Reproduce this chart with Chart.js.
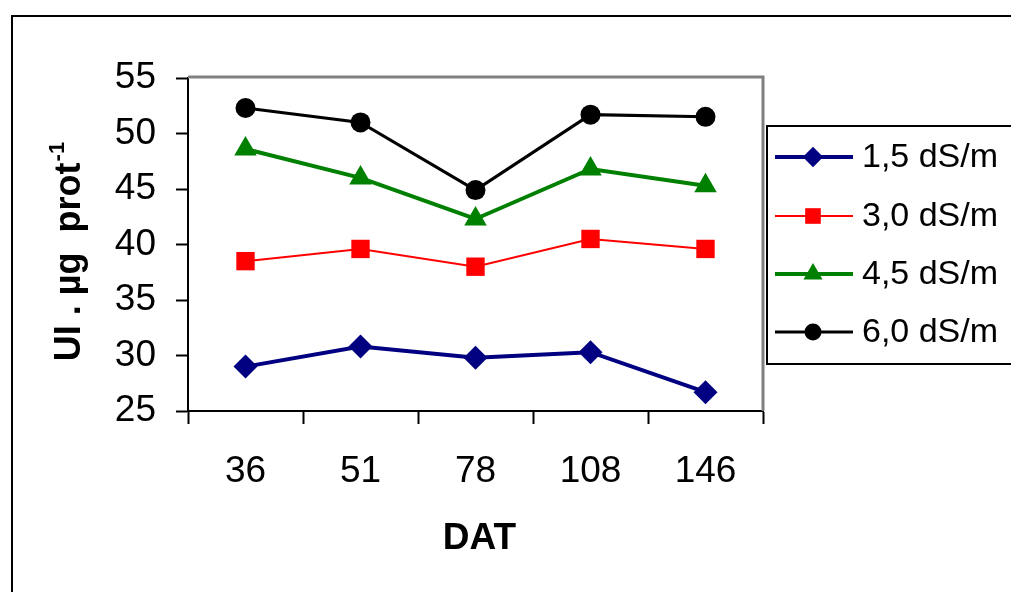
<!DOCTYPE html>
<html>
<head>
<meta charset="utf-8">
<title>UI per ug prot by DAT</title>
<script src="https://cdn.jsdelivr.net/npm/chart.js@4.4.1/dist/chart.umd.min.js"></script>
<style>
  html, body { margin: 0; padding: 0; background: #fff; }
  canvas { display: block; }
</style>
</head>
<body>
<canvas id="chart" width="1011" height="592"></canvas>
<script>
// data
const days = ['36', '51', '78', '108', '146'];
const ec15 = [29.0, 30.8, 29.8, 30.3, 26.7];
const ec30 = [38.5, 39.6, 38.0, 40.5, 39.6];
const ec45 = [48.6, 46.0, 42.3, 46.8, 45.3];
const ec60 = [52.3, 51.0, 44.9, 51.7, 51.5];
const seriesNames = ['1,5 dS/m', '3,0 dS/m', '4,5 dS/m', '6,0 dS/m'];

const FONT = '"Liberation Sans", Arial, sans-serif';

// plot box in the original figure
const plotLeft = 188, plotRight = 763, plotTop = 78, plotBottom = 411;

function series(label, data, color, width, style, radius) {
    return {
        label: label,
        data: data,
        borderColor: color,
        backgroundColor: color,
        borderWidth: width,
        pointStyle: style,
        pointRadius: radius,
        pointHoverRadius: radius,
        pointBorderWidth: 0,
        tension: 0
    };
}

// frame, grey plot border, axis titles and the legend box
const decorations = {
    id: 'decorations',
    beforeDatasetsDraw(chart) {
        const ctx = chart.ctx;
        const a = chart.chartArea;
        ctx.save();
        ctx.strokeStyle = '#808080';
        ctx.lineWidth = 3;
        ctx.beginPath();
        ctx.moveTo(a.left, a.top - 1);
        ctx.lineTo(a.right, a.top - 1);
        ctx.lineTo(a.right, a.bottom);
        ctx.stroke();
        ctx.restore();
    },
    afterDraw(chart) {
        const ctx = chart.ctx;
        const a = chart.chartArea;
        ctx.save();

        // outer frame (runs off the right and bottom edges)
        ctx.strokeStyle = '#000';
        ctx.lineWidth = 2;
        ctx.beginPath();
        ctx.moveTo(1020, 16);
        ctx.lineTo(12, 16);
        ctx.lineTo(12, 600);
        ctx.stroke();

        // x title
        ctx.fillStyle = '#000';
        ctx.font = 'bold 37px ' + FONT;
        ctx.textAlign = 'center';
        ctx.textBaseline = 'middle';
        ctx.fillText('DAT', (a.left + a.right) / 2 + 4, 539);

        // y title with superscript
        ctx.save();
        ctx.translate(68, 252);
        ctx.rotate(-Math.PI / 2);
        ctx.font = 'bold 36px ' + FONT;
        const main = 'UI . \u00b5g  prot';
        const wMain = ctx.measureText(main).width;
        ctx.font = 'bold 22px ' + FONT;
        const sup = '-1';
        const wSup = ctx.measureText(sup).width;
        const x0 = -(wMain + wSup) / 2;
        ctx.textAlign = 'left';
        ctx.textBaseline = 'alphabetic';
        ctx.font = 'bold 36px ' + FONT;
        ctx.fillText(main, x0, 12);
        ctx.font = 'bold 22px ' + FONT;
        ctx.fillText(sup, x0 + wMain + 1, -4);
        ctx.restore();

        // legend box
        ctx.fillStyle = '#fff';
        ctx.fillRect(767, 126, 260, 238);
        ctx.strokeStyle = '#000';
        ctx.lineWidth = 2;
        ctx.strokeRect(767, 126, 260, 238);

        const rowY = [157, 216, 274, 332];
        chart.data.datasets.forEach((ds, i) => {
            const y = rowY[i];
            ctx.strokeStyle = ds.borderColor;
            ctx.fillStyle = ds.backgroundColor;
            ctx.lineWidth = ds.borderWidth;
            ctx.beginPath();
            ctx.moveTo(775, y);
            ctx.lineTo(853, y);
            ctx.stroke();
            Chart.helpers.drawPoint(ctx, {
                pointStyle: ds.pointStyle,
                radius: ds.pointRadius * 0.85,
                rotation: 0,
                borderWidth: 0
            }, 813, y);
            ctx.fillStyle = '#000';
            ctx.font = '34px ' + FONT;
            ctx.textAlign = 'left';
            ctx.textBaseline = 'middle';
            ctx.fillText(ds.label, 862, y + 1);
        });
        ctx.restore();
    }
};

new Chart(document.getElementById('chart'), {
    type: 'line',
    data: {
        labels: days,
        datasets: [
            series(seriesNames[0], ec15, '#000080', 4, 'rectRot', 12),
            series(seriesNames[1], ec30, '#ff0000', 2, 'rect', 13),
            series(seriesNames[2], ec45, '#008000', 4, 'triangle', 13),
            series(seriesNames[3], ec60, '#000000', 3, 'circle', 10)
        ]
    },
    options: {
        responsive: false,
        animation: false,
        devicePixelRatio: 1,
        layout: {
            padding: { left: 0, top: plotTop, right: 1011 - plotRight, bottom: 0 }
        },
        plugins: {
            legend: { display: false },
            tooltip: { enabled: false }
        },
        scales: {
            x: {
                offset: true,
                afterFit(scale) { scale.height = 592 - plotBottom; },
                grid: {
                    offset: true,
                    drawOnChartArea: false,
                    drawTicks: true,
                    tickLength: 13,
                    tickColor: '#000',
                    tickWidth: 2
                },
                border: { display: true, color: '#000', width: 2 },
                ticks: {
                    color: '#000',
                    font: { family: FONT, size: 37 },
                    padding: 26,
                    maxRotation: 0
                }
            },
            y: {
                min: 25,
                max: 55,
                afterFit(scale) { scale.width = plotLeft; },
                grid: {
                    drawOnChartArea: false,
                    drawTicks: true,
                    tickLength: 12,
                    tickColor: '#000',
                    tickWidth: 2
                },
                border: { display: true, color: '#000', width: 2 },
                ticks: {
                    stepSize: 5,
                    color: '#000',
                    font: { family: FONT, size: 37 },
                    padding: 20
                }
            }
        }
    },
    plugins: [decorations]
});
</script>
</body>
</html>
